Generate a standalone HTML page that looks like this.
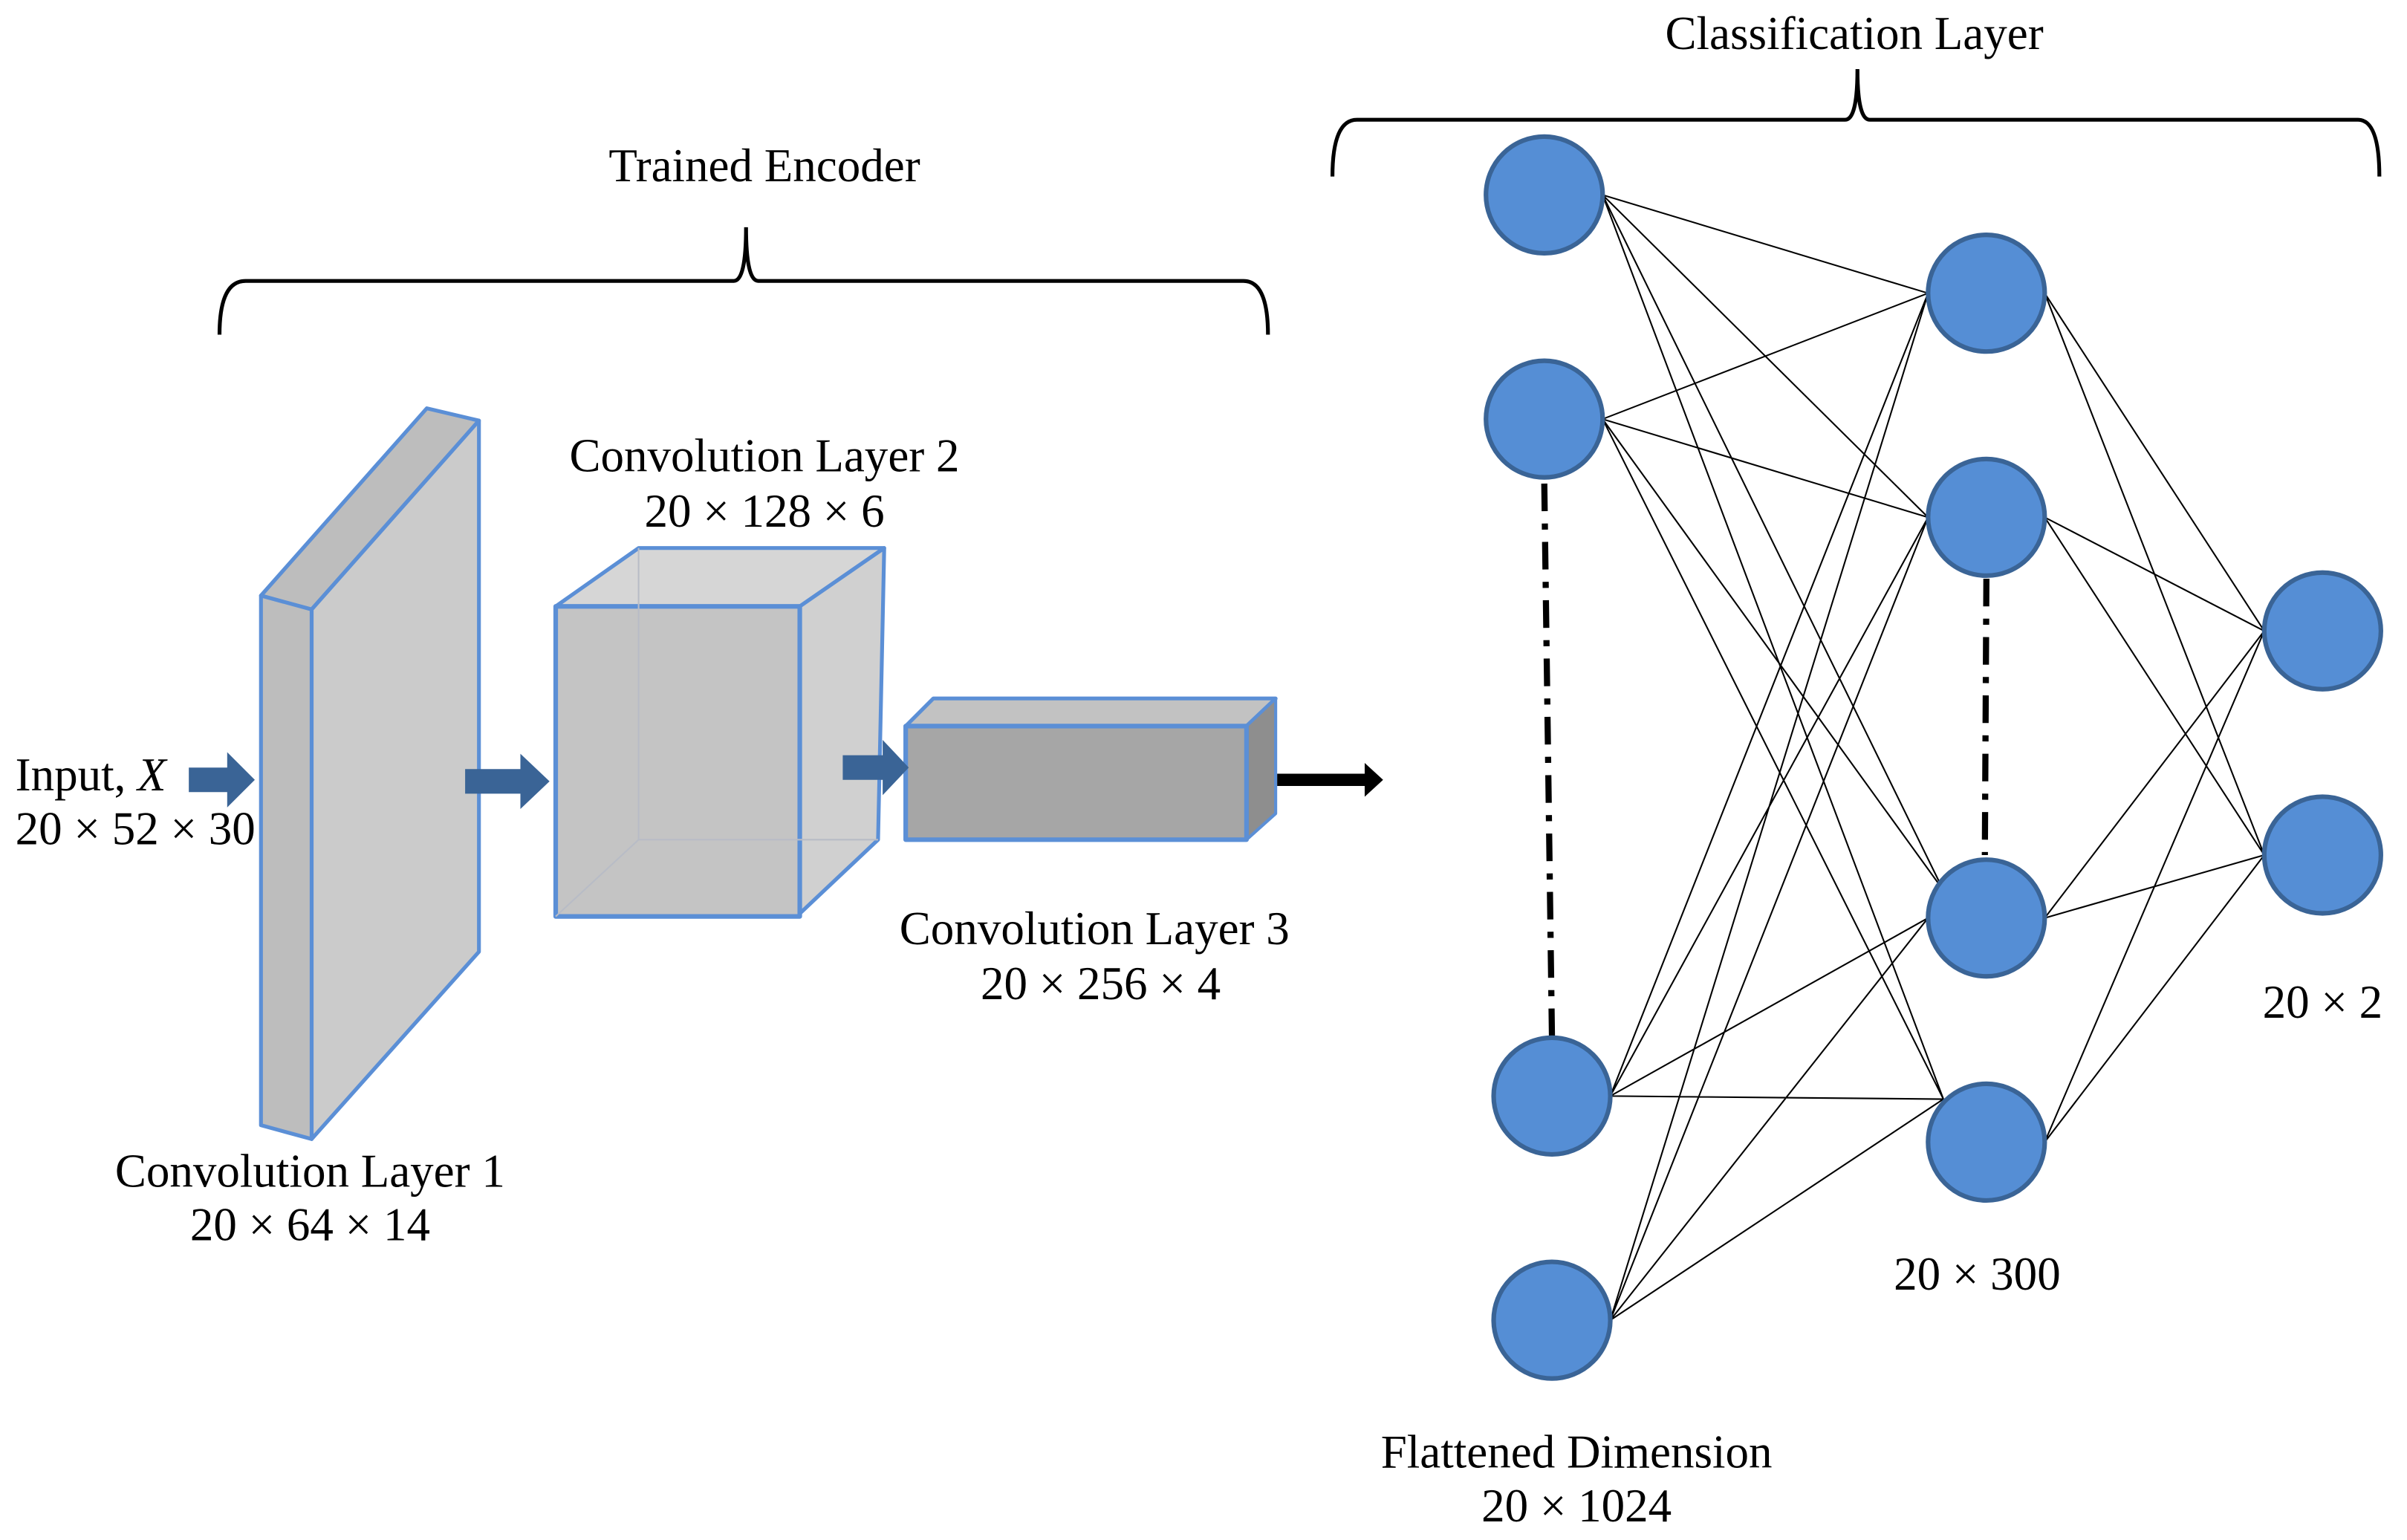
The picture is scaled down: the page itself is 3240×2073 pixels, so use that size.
<!DOCTYPE html>
<html><head><meta charset="utf-8"><style>
html,body{margin:0;padding:0;background:#fff;}
svg{display:block;}
text{font-family:"Liberation Serif",serif;font-size:30.5px;fill:#000;}
</style></head><body>
<svg width="3240" height="2073" viewBox="0 0 1568 1003.2" preserveAspectRatio="none" xmlns="http://www.w3.org/2000/svg">
<rect width="1568" height="1003.2" fill="#fff"/>
<!-- braces -->
<path d="M143,218 Q143,183 160,183 L478,183 Q486,183 486,148 Q486,183 494,183 L810,183 Q826,183 826,218" fill="none" stroke="#000" stroke-width="2.5"/>
<path d="M868,115 Q868,78 884,78 L1202,78 Q1210,78 1210,45 Q1210,78 1218,78 L1536,78 Q1550,78 1550,115" fill="none" stroke="#000" stroke-width="2.5"/>
<text x="498" y="118" text-anchor="middle">Trained Encoder</text>
<text x="1208" y="32" text-anchor="middle">Classification Layer</text>

<!-- conv1 -->
<g stroke="#5b8fd6" stroke-width="2.5" stroke-linejoin="round">
<polygon points="170,388 278,266 312,274 203,397" fill="#bdbdbd"/>
<polygon points="203,397 312,274 312,620 203,742" fill="#cbcbcb"/>
<polygon points="170,388 203,397 203,742 170,733" fill="#bdbdbd"/>
</g>
<!-- conv2 -->
<g stroke-linejoin="round">
<polygon points="362,395 416,357 576,357 521,395" fill="#d6d6d6" stroke="#5b8fd6" stroke-width="2.5"/>
<polygon points="521,395 576,357 572,547 519,597" fill="#d0d0d0" stroke="#5b8fd6" stroke-width="2.5"/>
<rect x="362" y="395" width="159" height="202" fill="#c4c4c4" stroke="#5b8fd6" stroke-width="3"/>
<path d="M416,357 L416,547 L572,547 M416,547 L362,597" fill="none" stroke="#b8bcc6" stroke-width="1"/>
</g>
<!-- conv3 -->
<g stroke-linejoin="round">
<polygon points="590,473 608,455 831,455 812,473" fill="#c2c2c2" stroke="#5b8fd6" stroke-width="2.5"/>
<polygon points="812,473 831,455 831,530 812,547" fill="#8e8e8e" stroke="#5b8fd6" stroke-width="2"/>
<rect x="590" y="473" width="222" height="74" fill="#a6a6a6" stroke="#5b8fd6" stroke-width="3"/>
</g>
<!-- arrows -->
<g fill="#3a6496">
<polygon points="123,500 148,500 148,490 166,508 148,526 148,516 123,516"/>
<polygon points="303,501 339,501 339,491 358,509 339,527 339,517 303,517"/>
<polygon points="549,492 575,492 575,482 592,500 575,518 575,508 549,508"/>
</g>
<polygon points="832,504 889,504 889,497 901,508 889,519 889,512 832,512" fill="#000"/>

<text x="10" y="515">Input, <tspan font-style="italic">X</tspan></text>
<text x="10" y="550">20 × 52 × 30</text>
<text x="498" y="307" text-anchor="middle">Convolution Layer 2</text>
<text x="498" y="343" text-anchor="middle">20 × 128 × 6</text>
<text x="713" y="615" text-anchor="middle">Convolution Layer 3</text>
<text x="717" y="651" text-anchor="middle">20 × 256 × 4</text>
<text x="202" y="773" text-anchor="middle">Convolution Layer 1</text>
<text x="202" y="808" text-anchor="middle">20 × 64 × 14</text>

<!-- edges -->
<g stroke="#000" stroke-width="1" fill="none">
<path d="M1044,127 L1256,191 M1044,127 L1256,337 M1044,127 L1266,580 M1044,127 L1266,716
M1044,273 L1256,191 M1044,273 L1256,337 M1044,273 L1266,580 M1044,273 L1266,716
M1049,714 L1256,191 M1049,714 L1256,337 M1049,714 L1256,598 M1049,714 L1266,716
M1049,860 L1256,191 M1049,860 L1256,337 M1049,860 L1256,598 M1049,860 L1266,716
M1332,191 L1475,411 M1332,191 L1475,557 M1332,337 L1475,411 M1332,337 L1475,557
M1332,598 L1475,411 M1332,598 L1475,557 M1332,744 L1475,411 M1332,744 L1475,557"/>
</g>
<g stroke="#000" stroke-width="4" stroke-dasharray="18,8,4,8" fill="none">
<line x1="1006" y1="315" x2="1011" y2="676"/>
<line x1="1294" y1="377" x2="1293" y2="557"/>
</g>
<g fill="#558ed5" stroke="#3a6496" stroke-width="3">
<circle cx="1006" cy="127" r="38"/>
<circle cx="1006" cy="273" r="38"/>
<circle cx="1011" cy="714" r="38"/>
<circle cx="1011" cy="860" r="38"/>
<circle cx="1294" cy="191" r="38"/>
<circle cx="1294" cy="337" r="38"/>
<circle cx="1294" cy="598" r="38"/>
<circle cx="1294" cy="744" r="38"/>
<circle cx="1513" cy="411" r="38"/>
<circle cx="1513" cy="557" r="38"/>
</g>
<text x="1288" y="840" text-anchor="middle">20 × 300</text>
<text x="1513" y="663" text-anchor="middle">20 × 2</text>
<text x="1027" y="956" text-anchor="middle">Flattened Dimension</text>
<text x="1027" y="991" text-anchor="middle">20 × 1024</text>
</svg>
</body></html>
